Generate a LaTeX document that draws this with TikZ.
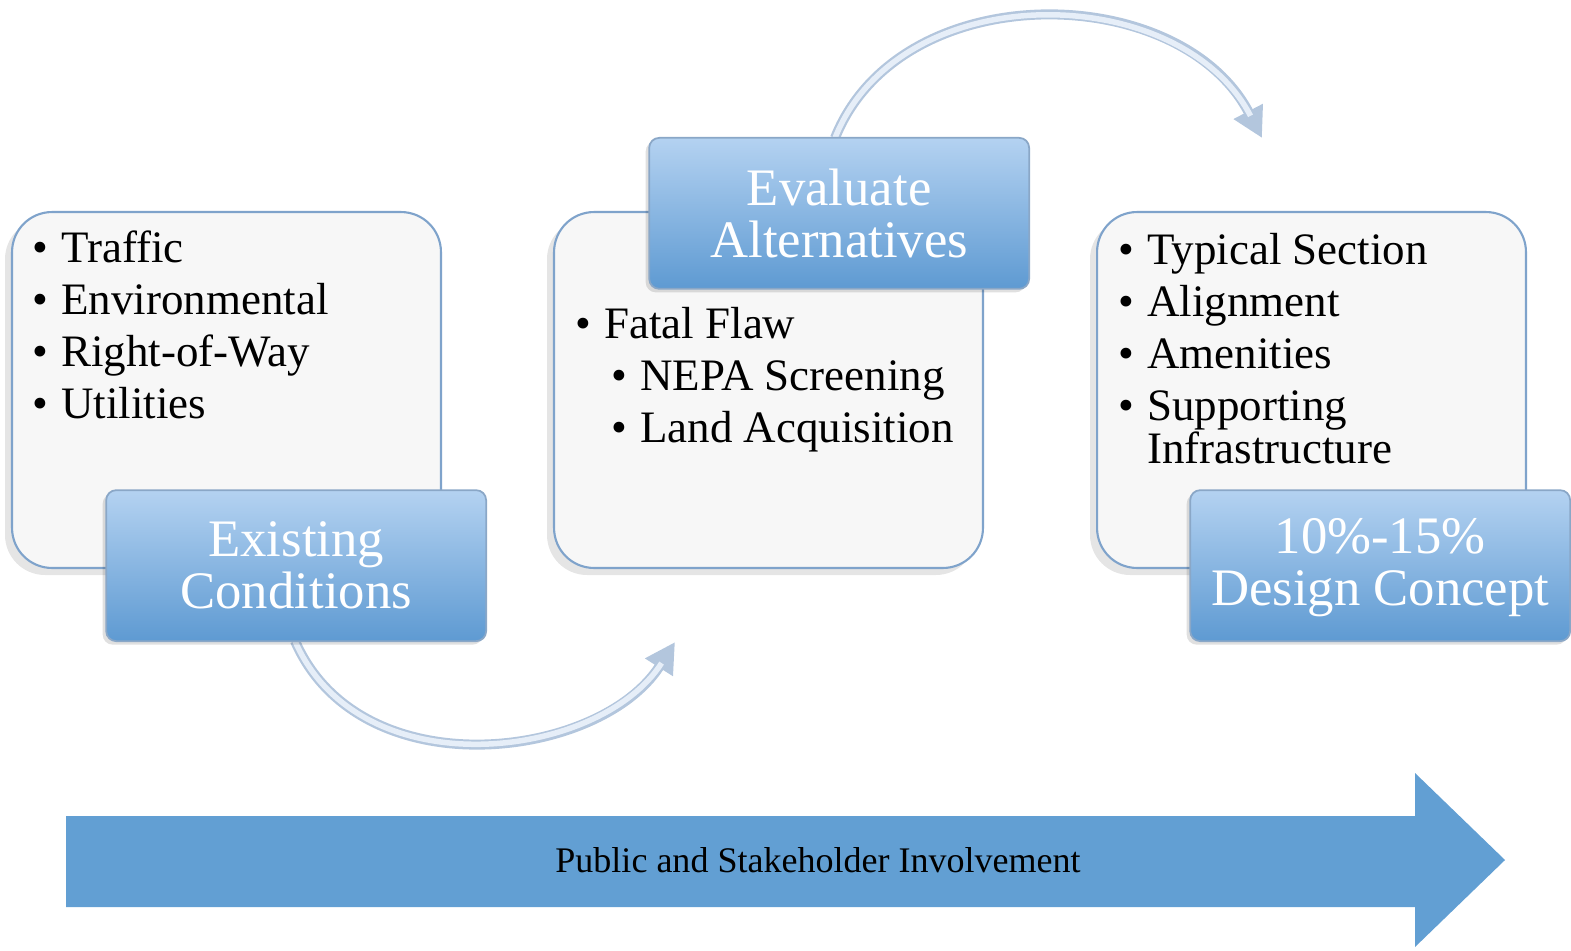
\documentclass[tikz,border=0pt]{standalone}
\usepackage{fontspec}
\setmainfont{Liberation Serif}
\usetikzlibrary{arrows.meta, positioning, shadows}
\definecolor{panelfill}{HTML}{F7F7F7}
\definecolor{paneledge}{HTML}{7FA3CB}
\definecolor{tagtop}{HTML}{B4D2F1}
\definecolor{tagbot}{HTML}{5E9AD2}
\definecolor{tagedge}{HTML}{8AA7C7}
\definecolor{swoopedge}{HTML}{B3C6DD}
\definecolor{swoopfill}{HTML}{E6EEF8}
\definecolor{arrowblue}{HTML}{629FD3}
\newcommand*{\bul}{\makebox[0.58cm][l]{\textbullet}}
\newcommand*{\subbul}{\hspace*{0.72cm}\bul}
\tikzstyle{panel} = [draw=paneledge, fill=panelfill, line width=1.2pt, rounded corners=0.8cm, minimum width=8.58cm, minimum height=7.12cm, inner sep=0pt, drop shadow={shadow xshift=-4pt, shadow yshift=-4pt, fill=black, opacity=0.1}]
\tikzstyle{tag} = [draw=tagedge, top color=tagtop, bottom color=tagbot, line width=1pt, rounded corners=0.2cm, minimum width=7.6cm, minimum height=3.02cm, inner sep=0pt, align=center, text=white, font=\fontsize{30}{29.6}\selectfont, drop shadow={shadow xshift=-2pt, shadow yshift=-2pt, fill=black, opacity=0.12}]
\tikzstyle{items} = [inner sep=0pt, align=left, anchor=base west, font=\fontsize{25.6}{29.6}\selectfont]
\tikzstyle{swoop} = [line width=0.2cm, draw=swoopedge, -{Triangle[length=0.6cm, width=0.62cm]}]
\tikzstyle{sheen} = [line width=0.11cm, draw=swoopfill, shorten >=0.5cm]

\begin{document}
\begin{tikzpicture}[x=0.02cm, y=-0.02cm]
    \useasboundingbox (0,0) rectangle (1571,950);

    % Panels.
    \node (cond box) [panel] at (226.5,390) {};
    \node (alt box) [panel, right=2.22cm of cond box] {};
    \node (design box) [panel, right=2.24cm of alt box] {};

    % Lists (placed by the baseline of their last line).
    \node (cond items) [items] at ([shift={(21,208)}]cond box.north west)
        {\bul Traffic\\ \bul Environmental\\ \bul Right-of-Way\\ \bul Utilities};
    \node (alt items) [items] at ([shift={(22,232)}]alt box.north west)
        {\bul Fatal Flaw\\ \subbul NEPA Screening\\ \subbul Land Acquisition};
    \node (design items) [items] at ([shift={(22,253)}]design box.north west)
        {\bul Typical Section\\ \bul Alignment\\ \bul Amenities\\ \bul Supporting\\[-4.6pt] \hspace*{0.58cm}Infrastructure};

    % Curved arrows.
    \coordinate (swoop a) at (295,641);
    \coordinate (swoop b) at (675,642);
    \coordinate (swoop c) at (835,138);
    \coordinate (swoop d) at (1262,138);
    \draw [swoop] (swoop a) .. controls (360,790) and (600,760) .. (swoop b);
    \draw [sheen] (swoop a) .. controls (360,790) and (600,760) .. (swoop b);
    \draw [swoop] (swoop c) .. controls (900,-25) and (1180,-20) .. (swoop d);
    \draw [sheen] (swoop c) .. controls (900,-25) and (1180,-20) .. (swoop d);

    % Stage labels.
    \node (cond) [tag, anchor=south east] at ([shift={(45,73)}]cond box.south east) {Existing\\Conditions};
    \node (alt) [tag, anchor=north east] at ([shift={(46,-74)}]alt box.north east) {Evaluate\\Alternatives};
    \node (design) [tag, anchor=south east] at ([shift={(44,73)}]design box.south east) {\rule{0pt}{0.8cm}10\%-15\%\\Design Concept};

    % Involvement arrow.
    \fill [arrowblue] (66,816) -- (1415,816) -- (1415,773) -- (1505,860) -- (1415,947) -- (1415,907) -- (66,907) -- cycle;
    \node (involve) [font=\fontsize{20.5}{24}\selectfont] at (818,860) {Public and Stakeholder Involvement};
\end{tikzpicture}
\end{document}
